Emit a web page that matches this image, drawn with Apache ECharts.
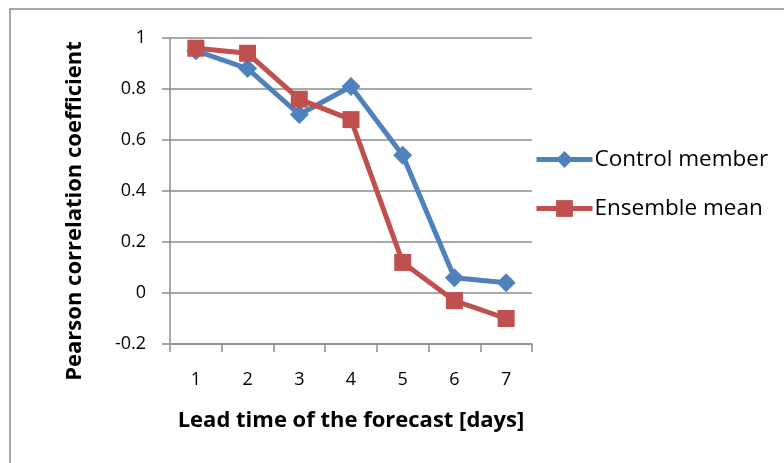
<!DOCTYPE html>
<html><head><meta charset="utf-8">
<script src="https://cdn.jsdelivr.net/npm/echarts@6/dist/echarts.min.js"></script>
<style>html,body{margin:0;padding:0;background:#fff}#c{width:784px;height:463px}</style>
</head><body><div id="c"></div>
<script>
const categories = ['1','2','3','4','5','6','7'];
const controlMember = [0.95, 0.88, 0.70, 0.81, 0.54, 0.06, 0.04];
const ensembleMean = [0.96, 0.94, 0.76, 0.68, 0.12, -0.03, -0.10];
const seriesNames = ['Control member', 'Ensemble mean'];
const xTitle = 'Lead time of the forecast [days]';
const yTitle = 'Pearson correlation coefficient';

const font = '"Open Sans", "Liberation Sans", sans-serif';
const chart = echarts.init(document.getElementById('c'), null, {renderer: 'canvas'});
chart.setOption({
  animation: false,
  backgroundColor: '#fff',
  graphic: [{
    type: 'rect', shape: {x: 10, y: 9, width: 800, height: 470},
    style: {fill: 'none', stroke: '#8c8c8c', lineWidth: 1.5}, silent: true, z: -1
  }, {
    type: 'text', x: 75, y: 211, rotation: Math.PI / 2, silent: true,
    style: {text: yTitle, fontFamily: font, fontSize: 22, fontWeight: 'bold', fill: '#000',
      align: 'center', verticalAlign: 'middle'}
  }],
  grid: {left: 170, right: 252, top: 38, bottom: 119},
  legend: {
    orient: 'vertical', left: 529, top: 143, itemGap: 26,
    itemWidth: 56, itemHeight: 21,
    lineStyle: {width: 5},
    textStyle: {fontFamily: font, fontSize: 22.5, color: '#000', padding: [0,0,0,-3]},
    data: seriesNames
  },
  xAxis: {
    type: 'category', data: categories, boundaryGap: true,
    name: xTitle, nameLocation: 'middle', nameGap: 66,
    nameTextStyle: {fontFamily: font, fontSize: 22, fontWeight: 'bold', color: '#000'},
    axisLine: {onZero: false, lineStyle: {color: '#8c8c8c', width: 1.5}},
    axisTick: {show: true, length: 8, alignWithLabel: false, lineStyle: {color: '#8c8c8c', width: 1.5}},
    axisLabel: {fontFamily: font, fontSize: 18, color: '#000', margin: 27}
  },
  yAxis: {
    type: 'value', min: -0.2, max: 1, interval: 0.2,
    axisLine: {show: true, lineStyle: {color: '#8c8c8c', width: 1.5}},
    axisTick: {show: true, length: 8, lineStyle: {color: '#8c8c8c', width: 1.5}},
    splitLine: {show: true, lineStyle: {color: '#8c8c8c', width: 1.5}},
    axisLabel: {fontFamily: font, fontSize: 18, color: '#000', margin: 24,
      formatter: v => String(Math.round(v * 10) / 10)}
  },
  series: [
    {name: seriesNames[0], type: 'line', data: controlMember,
     symbol: 'diamond', symbolSize: 19,
     lineStyle: {color: '#4F81BD', width: 5}, itemStyle: {color: '#4F81BD'}},
    {name: seriesNames[1], type: 'line', data: ensembleMean,
     symbol: 'rect', symbolSize: 17,
     lineStyle: {color: '#C0504D', width: 5}, itemStyle: {color: '#C0504D'}}
  ]
});
</script></body></html>
